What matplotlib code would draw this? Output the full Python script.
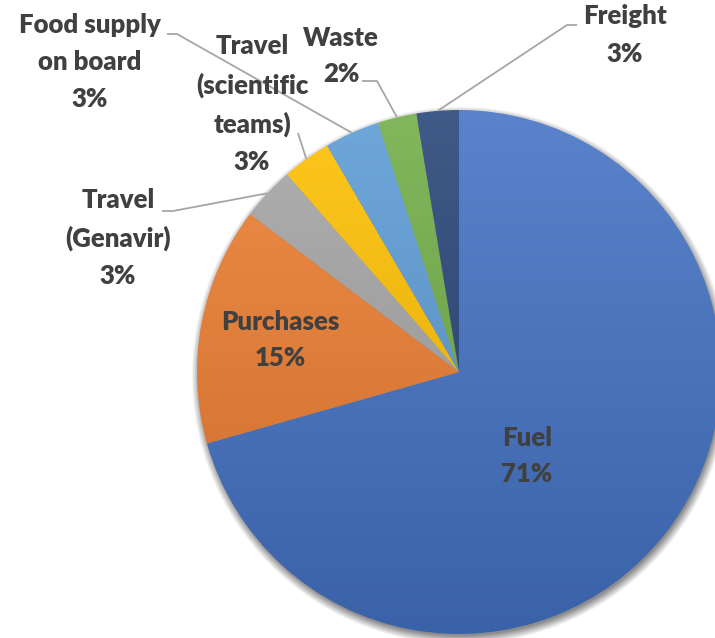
import numpy as np
import matplotlib
matplotlib.use('Agg')
import matplotlib.pyplot as plt
from matplotlib.colors import to_rgb

# data
categories = ['Fuel', 'Purchases', 'Travel\n(Genavir)', 'Travel\n(scientific\nteams)',
              'Food supply\non board', 'Waste', 'Freight']
values = [70.6, 14.7, 3.3, 3.0, 3.4, 2.4, 2.6]
colors = ['#4472C4', '#ED7D31', '#A5A5A5', '#FFC000', '#5B9BD5', '#70AD47', '#264478']

W, H = 715, 638
CX, CY, R = 459, 372, 262      # pie centre / radius in pixels (y from top)
TEXT = '#404040'
LINE = '#A6A6A6'
FS = 18.5
LS = 1.65

# label layout (pixel coords from top-left): text centre, leader elbow, leader end
inside = {0: (527, 456), 1: (280, 340)}
outside = {
    2: ((118, 238), [(173, 211), (162, 211)]),
    3: ((252, 104), [(298, 133)]),
    4: ((90, 62), [(177, 34), (167, 34)]),
    5: ((341, 56), [(377, 81), (362, 81)]),
    6: ((625, 35), [(567, 25), (577, 25)]),
}


def px(x, y):
    return x, H - y


def shade(c, f):
    c = np.array(to_rgb(c))
    if f > 0:
        return c + (1 - c) * f
    return c * (1 + f)


plt.rcParams['font.family'] = ['Lato', 'DejaVu Sans']

fig = plt.figure(figsize=(W / 100, H / 100), dpi=100)
ax = fig.add_axes([0, 0, 1, 1])

cx, cy = px(CX, CY)

# soft shadow behind the pie
yy, xx = np.mgrid[0:H, 0:W]
d = np.hypot(xx - (CX + 1), yy - (CY + 3))
alpha = 0.45 * np.clip((R + 7 - d) / 9, 0, 1)
shadow = np.zeros((H, W, 4))
shadow[..., 3] = alpha
ax.imshow(shadow, extent=(0, W, 0, H), origin='upper', zorder=0)

wedges, _ = ax.pie(values, center=(cx, cy), radius=R, startangle=90,
                   counterclock=False, wedgeprops=dict(linewidth=0))

# vertical gradient fill for every slice, lighter at the top
t = np.linspace(0, 1, 256)[:, None]
for w, c in zip(wedges, colors):
    w.set_facecolor('none')
    top, bot = shade(c, 0.12), shade(c, -0.14)
    grad = (top[None, :] * (1 - t) + bot[None, :] * t)[:, None, :]
    im = ax.imshow(grad, extent=(cx - R, cx + R, cy - R, cy + R), origin='upper',
                   aspect='auto', zorder=1, interpolation='bilinear')
    im.set_clip_path(w)

total = sum(values)
for i, (name, v) in enumerate(zip(categories, values)):
    label = '%s\n%.0f%%' % (name, v / total * 100)
    if i in inside:
        ax.text(*px(*inside[i]), label, ha='center', va='center', color=TEXT,
                fontsize=FS, fontweight='heavy', linespacing=LS, zorder=5)
        continue
    pos, pts = outside[i]
    w = wedges[i]
    mid = np.deg2rad((w.theta1 + w.theta2) / 2)
    ax_, ay_ = cx + R * np.cos(mid), cy + R * np.sin(mid)
    xs = [ax_] + [px(*p)[0] for p in pts]
    ys = [ay_] + [px(*p)[1] for p in pts]
    ax.plot(xs, ys, color=LINE, lw=1.3, zorder=4, solid_capstyle='butt')
    ax.text(*px(*pos), label, ha='center', va='center', color=TEXT,
            fontsize=FS, fontweight='heavy', linespacing=LS, zorder=5)

ax.set_xlim(0, W)
ax.set_ylim(0, H)
ax.set_aspect('equal')
ax.axis('off')

fig.savefig('out.png', dpi=100)
